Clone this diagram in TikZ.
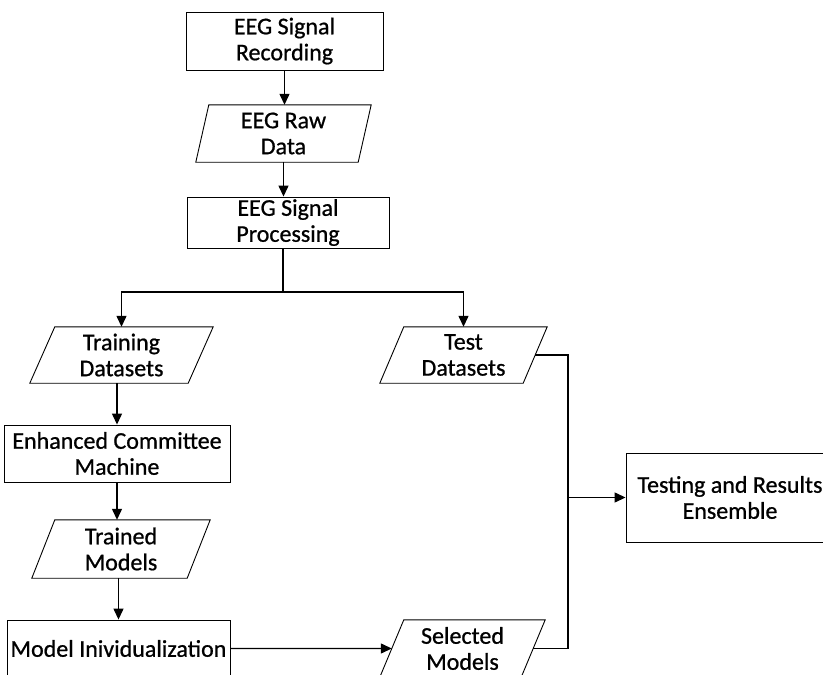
\documentclass[tikz,border=0pt]{standalone}
\usepackage{fontspec}
\setmainfont{Carlito}
\newfontfamily\boxfont{Carlito}[FakeBold=0.8]
\usetikzlibrary{arrows.meta,calc}
\tikzset{
  boxtext/.style={inner sep=0pt, align=center, font=\boxfont\fontsize{24}{26}\selectfont},
  procbox/.style={boxtext, draw, line width=0.9pt},
  iobox/.style={boxtext},
  shapeline/.style={line width=0.9pt},
  conn/.style={line width=1.3pt},
  arr/.style={conn, -{Triangle[length=11pt,width=10pt]}}
}
\begin{document}
\begin{tikzpicture}[x=1pt,y=-1pt]
\useasboundingbox (0,0) rectangle (823,675);
\clip (0,0) rectangle (823,675);
\fill[white] (0,0) rectangle (823,675);

% nodes
\node[procbox, minimum width=197pt, minimum height=58pt] (rec) at (284.5,41) {EEG Signal\\Recording};
\node[iobox, minimum width=175pt, minimum height=57pt] (raw) at (283.5,133.5) {EEG Raw\\Data};
\node[procbox, minimum width=202pt, minimum height=51pt] (proc) at (288,222.5) {EEG Signal\\Processing};
\node[iobox, minimum width=183pt, minimum height=56pt] (train) at (121.5,355) {Training\\Datasets};
\node[iobox, minimum width=167pt, minimum height=56pt] (test) at (463.5,355) {Test\\Datasets};
\node[procbox, minimum width=226pt, minimum height=57pt] (ecm) at (117,453.5) {Enhanced Committee\\Machine};
\node[iobox, minimum width=178pt, minimum height=58pt] (trained) at (121,549) {Trained\\Models};
\node[procbox, minimum width=223pt, minimum height=57pt] (model) at (118.5,648.5) {Model Inividualization};
\node[iobox, minimum width=165pt, minimum height=57pt] (sel) at (462.5,648.5) {Selected\\Models};
\node[procbox, minimum width=208pt, minimum height=89pt] (tre) at (730,497.5) {Testing and Results\\Ensemble};

% parallelogram outlines
\foreach \n/\s in {raw/13, train/25, trained/23, test/24, sel/24}
  \draw[shapeline] ([xshift=\s pt]\n.north west) -- (\n.north east)
     -- ([xshift=-\s pt]\n.south east) -- (\n.south west) -- cycle;

% helper coordinates
\coordinate (split) at (283,292);
\coordinate (join) at (568,497.5);
\coordinate (teste) at ($(test.north east)!0.5!([xshift=-24pt]test.south east)$);
\coordinate (sele) at ($(sel.north east)!0.5!([xshift=-24pt]sel.south east)$);
\coordinate (selw) at ($(sel.south west)!0.5!([xshift=24pt]sel.north west)$);

% connectors
\draw[arr] (rec.south) -- (rec.south |- raw.north);
\draw[arr] (raw.south) -- (raw.south |- proc.north);
\draw[conn] (proc.south -| split) -- (split);
\draw[arr] (split) -| (train.north);
\draw[arr] (split) -| (test.north);
\draw[arr] (train.south -| ecm.north) -- (ecm.north);
\draw[arr] (ecm.south) -- (ecm.south |- trained.north);
\draw[arr] (trained.south -| model.north) -- (model.north);
\draw[arr] (model.east) -- (selw);
\draw[conn] (teste) -| (join);
\draw[conn] (sele) -| (join);
\draw[arr] (join) -- (tre.west);
\end{tikzpicture}
\end{document}
